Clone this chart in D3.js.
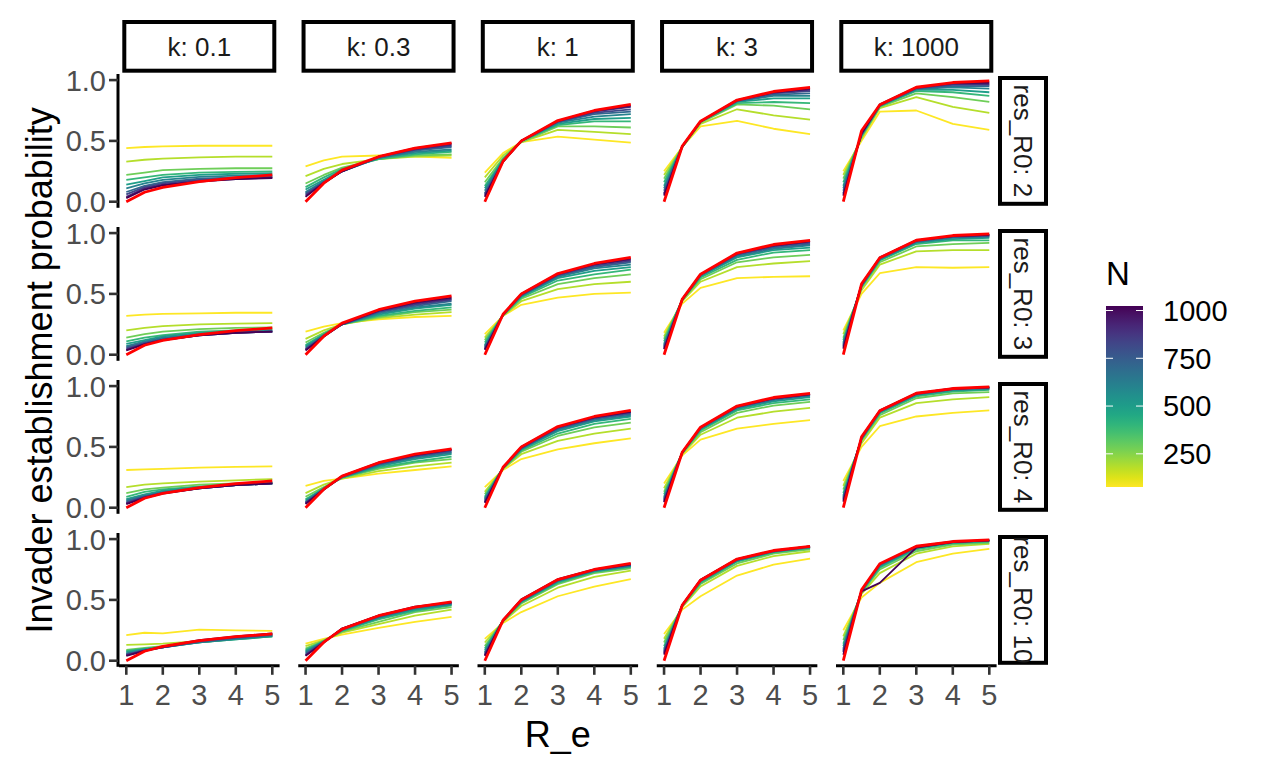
<!DOCTYPE html>
<html>
<head>
<meta charset="utf-8">
<script src="https://cdn.jsdelivr.net/npm/d3@7"></script>
<style>
  body { margin: 0; background: #fff; }
  text { font-family: "Liberation Sans", Arial, sans-serif; }
</style>
</head>
<body>
<div id="chart-area"></div>
<script>
// R_e values where the simulations were run
var xValues = [1, 1.5, 2, 3, 4, 5];
var xTicks = [1, 2, 3, 4, 5];
var yTicks = [0, 0.5, 1];
var kLabels = ["0.1", "0.3", "1", "3", "1000"];
var r0Labels = ["2", "3", "4", "10"];
var nValues = [100, 200, 300, 400, 500, 600, 700, 800, 900, 1000];
var legendTicks = [250, 500, 750, 1000];

// red line: branching process probability, one per k
var theory = [
  [0, 0.078, 0.118, 0.165, 0.198, 0.22],
  [0, 0.152, 0.26, 0.37, 0.44, 0.483],
  [0, 0.333, 0.5, 0.667, 0.75, 0.8],
  [0, 0.458, 0.662, 0.836, 0.906, 0.94],
  [0, 0.583, 0.797, 0.941, 0.98, 0.993]
];

// simulations, one row per N (100 .. 1000)
var r2_k01 = [
  [0.44,0.45,0.455,0.46,0.46,0.46],[0.33,0.345,0.355,0.365,0.37,0.37],[0.22,0.24,0.26,0.27,0.275,0.275],
  [0.18,0.2,0.22,0.24,0.245,0.25],[0.14,0.17,0.2,0.22,0.23,0.235],[0.11,0.15,0.18,0.205,0.215,0.22],
  [0.08,0.13,0.16,0.19,0.2,0.21],[0.06,0.12,0.15,0.18,0.19,0.2],[0.04,0.11,0.14,0.17,0.185,0.2],
  [0.03,0.1,0.135,0.165,0.185,0.195]];
var r2_k03 = [
  [0.29,0.34,0.37,0.38,0.37,0.36],[0.21,0.27,0.31,0.35,0.37,0.38],[0.15,0.22,0.28,0.35,0.38,0.39],
  [0.12,0.2,0.27,0.35,0.39,0.41],[0.1,0.18,0.26,0.36,0.4,0.42],[0.08,0.17,0.25,0.36,0.41,0.43],
  [0.07,0.16,0.25,0.36,0.42,0.45],[0.06,0.16,0.25,0.37,0.43,0.46],[0.05,0.155,0.25,0.37,0.43,0.47],
  [0.04,0.155,0.25,0.37,0.44,0.48]];
var r2_k1 = [
  [0.24,0.4,0.49,0.535,0.51,0.485],[0.2,0.38,0.49,0.59,0.575,0.555],[0.16,0.36,0.49,0.62,0.62,0.61],
  [0.13,0.35,0.5,0.63,0.66,0.66],[0.11,0.34,0.5,0.64,0.68,0.69],[0.09,0.34,0.5,0.65,0.7,0.72],
  [0.07,0.33,0.5,0.655,0.72,0.74],[0.06,0.33,0.5,0.66,0.73,0.76],[0.05,0.33,0.5,0.66,0.74,0.78],
  [0.04,0.33,0.5,0.665,0.75,0.79]];
var r2_k3 = [
  [0.25,0.45,0.62,0.665,0.6,0.555],[0.22,0.45,0.64,0.76,0.71,0.675],[0.19,0.45,0.65,0.8,0.79,0.76],
  [0.16,0.45,0.655,0.81,0.82,0.81],[0.13,0.45,0.66,0.82,0.85,0.85],[0.11,0.455,0.66,0.825,0.87,0.87],
  [0.09,0.455,0.66,0.83,0.88,0.89],[0.07,0.455,0.66,0.83,0.89,0.91],[0.06,0.455,0.66,0.835,0.9,0.92],
  [0.05,0.455,0.66,0.835,0.9,0.93]];
var r2_k1000 = [
  [0.25,0.5,0.74,0.75,0.64,0.59],[0.22,0.52,0.77,0.86,0.78,0.73],[0.19,0.53,0.78,0.89,0.86,0.82],
  [0.16,0.54,0.785,0.91,0.9,0.87],[0.13,0.55,0.79,0.92,0.92,0.9],[0.11,0.55,0.79,0.925,0.94,0.93],
  [0.09,0.55,0.79,0.93,0.95,0.95],[0.07,0.56,0.795,0.935,0.96,0.96],[0.06,0.56,0.795,0.935,0.97,0.97],
  [0.05,0.56,0.8,0.94,0.975,0.98]];

var r3_k01 = [
  [0.32,0.33,0.335,0.34,0.345,0.345],[0.2,0.22,0.235,0.25,0.255,0.26],[0.14,0.17,0.19,0.21,0.22,0.225],
  [0.11,0.14,0.16,0.19,0.2,0.21],[0.09,0.12,0.15,0.18,0.19,0.2],[0.07,0.11,0.14,0.17,0.185,0.195],
  [0.06,0.1,0.13,0.165,0.18,0.19],[0.05,0.095,0.125,0.16,0.18,0.19],[0.04,0.09,0.12,0.16,0.18,0.19],
  [0.035,0.085,0.12,0.16,0.18,0.19]];
var r3_k03 = [
  [0.19,0.23,0.26,0.29,0.31,0.32],[0.13,0.2,0.25,0.3,0.33,0.35],[0.1,0.18,0.25,0.31,0.35,0.37],
  [0.08,0.17,0.25,0.32,0.36,0.39],[0.07,0.165,0.25,0.33,0.38,0.41],[0.06,0.16,0.25,0.34,0.39,0.42],
  [0.05,0.155,0.25,0.35,0.4,0.44],[0.045,0.155,0.25,0.355,0.41,0.45],[0.04,0.15,0.25,0.36,0.42,0.46],
  [0.035,0.15,0.255,0.365,0.43,0.47]];
var r3_k1 = [
  [0.17,0.32,0.41,0.47,0.5,0.51],[0.14,0.32,0.44,0.54,0.58,0.6],[0.12,0.32,0.46,0.58,0.63,0.66],
  [0.1,0.325,0.47,0.61,0.66,0.7],[0.08,0.33,0.48,0.63,0.69,0.72],[0.07,0.33,0.485,0.64,0.71,0.74],
  [0.06,0.33,0.49,0.65,0.72,0.76],[0.05,0.33,0.49,0.655,0.73,0.77],[0.045,0.33,0.495,0.66,0.74,0.78],
  [0.04,0.33,0.5,0.665,0.745,0.79]];
var r3_k3 = [
  [0.18,0.42,0.55,0.63,0.64,0.645],[0.15,0.44,0.6,0.72,0.75,0.77],[0.13,0.45,0.62,0.76,0.8,0.82],
  [0.11,0.45,0.635,0.78,0.84,0.86],[0.09,0.455,0.645,0.8,0.86,0.88],[0.08,0.455,0.65,0.81,0.87,0.9],
  [0.07,0.455,0.655,0.82,0.88,0.91],[0.06,0.455,0.66,0.825,0.89,0.92],[0.05,0.455,0.66,0.83,0.895,0.93],
  [0.045,0.455,0.66,0.835,0.9,0.935]];
var r3_k1000 = [
  [0.2,0.5,0.67,0.72,0.715,0.72],[0.17,0.53,0.74,0.85,0.86,0.86],[0.14,0.55,0.76,0.89,0.91,0.92],
  [0.12,0.56,0.775,0.91,0.94,0.94],[0.1,0.56,0.78,0.92,0.95,0.96],[0.09,0.57,0.79,0.925,0.96,0.97],
  [0.08,0.57,0.79,0.93,0.97,0.975],[0.07,0.575,0.795,0.935,0.97,0.98],[0.06,0.575,0.795,0.94,0.975,0.985],
  [0.05,0.58,0.8,0.94,0.975,0.985]];

var r4_k01 = [
  [0.31,0.315,0.32,0.33,0.335,0.34],[0.17,0.19,0.2,0.215,0.225,0.235],[0.12,0.15,0.165,0.19,0.2,0.21],
  [0.09,0.13,0.15,0.175,0.19,0.2],[0.07,0.11,0.14,0.17,0.185,0.2],[0.06,0.1,0.13,0.165,0.185,0.2],
  [0.05,0.095,0.125,0.16,0.185,0.2],[0.04,0.09,0.12,0.16,0.185,0.2],[0.035,0.085,0.12,0.16,0.185,0.2],
  [0.03,0.08,0.115,0.16,0.185,0.2]];
var r4_k03 = [
  [0.18,0.22,0.24,0.28,0.31,0.34],[0.12,0.19,0.24,0.3,0.34,0.37],[0.09,0.17,0.245,0.32,0.37,0.4],
  [0.07,0.16,0.25,0.33,0.38,0.42],[0.06,0.16,0.25,0.34,0.4,0.44],[0.05,0.155,0.25,0.35,0.41,0.45],
  [0.045,0.155,0.255,0.355,0.42,0.46],[0.04,0.15,0.255,0.36,0.425,0.47],[0.035,0.15,0.26,0.365,0.43,0.475],
  [0.03,0.15,0.26,0.37,0.435,0.48]];
var r4_k1 = [
  [0.17,0.31,0.4,0.48,0.53,0.57],[0.13,0.32,0.44,0.55,0.61,0.65],[0.11,0.32,0.46,0.59,0.66,0.7],
  [0.09,0.325,0.47,0.61,0.69,0.73],[0.08,0.33,0.48,0.63,0.71,0.75],[0.07,0.33,0.485,0.64,0.72,0.76],
  [0.06,0.33,0.49,0.65,0.73,0.77],[0.05,0.33,0.49,0.655,0.735,0.78],[0.045,0.33,0.495,0.66,0.74,0.785],
  [0.04,0.33,0.5,0.665,0.745,0.79]];
var r4_k3 = [
  [0.2,0.43,0.56,0.65,0.69,0.72],[0.16,0.44,0.6,0.74,0.79,0.82],[0.13,0.45,0.62,0.78,0.84,0.87],
  [0.11,0.45,0.635,0.8,0.86,0.89],[0.09,0.455,0.645,0.81,0.875,0.91],[0.08,0.455,0.65,0.82,0.885,0.92],
  [0.07,0.455,0.655,0.825,0.89,0.925],[0.06,0.455,0.66,0.83,0.895,0.93],[0.05,0.455,0.66,0.83,0.9,0.935],
  [0.045,0.455,0.66,0.835,0.9,0.935]];
var r4_k1000 = [
  [0.22,0.5,0.67,0.75,0.78,0.8],[0.18,0.53,0.74,0.86,0.89,0.91],[0.15,0.55,0.76,0.9,0.94,0.95],
  [0.12,0.56,0.775,0.915,0.955,0.97],[0.1,0.565,0.785,0.925,0.965,0.975],[0.09,0.57,0.79,0.93,0.97,0.98],
  [0.08,0.57,0.79,0.935,0.975,0.985],[0.07,0.575,0.795,0.935,0.975,0.99],[0.06,0.575,0.795,0.94,0.978,0.99],
  [0.05,0.58,0.8,0.94,0.98,0.99]];

var r10_k01 = [
  [0.21,0.23,0.225,0.255,0.25,0.245],[0.13,0.135,0.14,0.16,0.19,0.215],[0.09,0.105,0.12,0.15,0.18,0.2],
  [0.08,0.1,0.115,0.15,0.175,0.2],[0.07,0.095,0.11,0.15,0.175,0.2],[0.06,0.09,0.11,0.15,0.18,0.205],
  [0.055,0.085,0.11,0.155,0.185,0.21],[0.05,0.085,0.11,0.16,0.19,0.215],[0.045,0.08,0.11,0.165,0.195,0.22],
  [0.04,0.08,0.115,0.17,0.2,0.225]];
var r10_k03 = [
  [0.14,0.18,0.215,0.27,0.32,0.36],[0.12,0.17,0.23,0.3,0.37,0.42],[0.1,0.165,0.24,0.32,0.4,0.44],
  [0.09,0.16,0.245,0.34,0.41,0.455],[0.08,0.16,0.25,0.35,0.42,0.46],[0.07,0.155,0.255,0.355,0.43,0.465],
  [0.06,0.155,0.26,0.36,0.435,0.47],[0.05,0.155,0.26,0.365,0.44,0.475],[0.045,0.15,0.265,0.37,0.44,0.48],
  [0.04,0.15,0.265,0.37,0.445,0.48]];
var r10_k1 = [
  [0.18,0.31,0.4,0.53,0.61,0.67],[0.15,0.32,0.45,0.6,0.69,0.74],[0.12,0.325,0.47,0.63,0.72,0.76],
  [0.1,0.33,0.48,0.64,0.73,0.77],[0.085,0.33,0.485,0.65,0.735,0.775],[0.07,0.33,0.49,0.655,0.74,0.78],
  [0.06,0.33,0.49,0.66,0.745,0.785],[0.05,0.33,0.495,0.66,0.745,0.79],[0.045,0.33,0.5,0.665,0.75,0.79],
  [0.04,0.335,0.505,0.67,0.75,0.795]];
var r10_k3 = [
  [0.22,0.42,0.53,0.7,0.79,0.84],[0.18,0.44,0.61,0.78,0.86,0.9],[0.15,0.45,0.63,0.8,0.88,0.915],
  [0.12,0.45,0.64,0.815,0.89,0.925],[0.1,0.455,0.65,0.82,0.895,0.93],[0.09,0.455,0.655,0.825,0.9,0.935],
  [0.08,0.455,0.66,0.83,0.9,0.935],[0.07,0.455,0.66,0.83,0.9,0.94],[0.06,0.455,0.665,0.835,0.905,0.94],
  [0.05,0.46,0.665,0.835,0.905,0.94]];
var r10_k1000 = [
  [0.25,0.52,0.64,0.81,0.88,0.92],[0.2,0.55,0.72,0.88,0.94,0.96],[0.17,0.56,0.75,0.9,0.955,0.97],
  [0.14,0.565,0.765,0.915,0.965,0.98],[0.12,0.57,0.775,0.925,0.97,0.985],[0.1,0.575,0.785,0.93,0.975,0.985],
  [0.09,0.575,0.79,0.935,0.975,0.99],[0.08,0.575,0.79,0.935,0.978,0.99],[0.07,0.58,0.795,0.94,0.98,0.99],
  [0.05,0.57,0.64,0.93,0.975,0.99]];

var panels = [
  [r2_k01, r2_k03, r2_k1, r2_k3, r2_k1000],
  [r3_k01, r3_k03, r3_k1, r3_k3, r3_k1000],
  [r4_k01, r4_k03, r4_k1, r4_k3, r4_k1000],
  [r10_k01, r10_k03, r10_k1, r10_k3, r10_k1000]
];

var width = 1265, height = 771;
var margin = { left: 119, top: 74 };
var panelW = 160.6, panelH = 133.8;
var colStep = 179.25, rowStep = 153;

var svg = d3.select("#chart-area").append("svg")
  .attr("width", width)
  .attr("height", height);

var x = d3.scaleLinear().domain([0.8, 5.2]).range([0, panelW]);
var y = d3.scaleLinear().domain([-0.05, 1.05]).range([panelH, 0]);
var color = d3.scaleSequential(d3.interpolateViridis).domain([1000, 100]);

var line = d3.line()
  .x(function(d, i){ return x(xValues[i]); })
  .y(function(d){ return y(d); });

panels.forEach(function(row, ri){
  row.forEach(function(series, ci){
    var g = svg.append("g")
      .attr("transform", "translate(" + (margin.left + ci * colStep) + ", " + (margin.top + ri * rowStep) + ")");

    g.selectAll("path.sim")
      .data(series)
      .enter()
      .append("path")
        .attr("class", "sim")
        .attr("d", line)
        .attr("fill", "none")
        .attr("stroke", function(d, i){ return color(nValues[i]); })
        .attr("stroke-width", 1.8)
        .attr("stroke-linejoin", "round");

    g.append("path")
      .attr("d", line(theory[ci]))
      .attr("fill", "none")
      .attr("stroke", "red")
      .attr("stroke-width", 2.8)
      .attr("stroke-linejoin", "round");

    // y axis on first column
    if (ci === 0) {
      var ya = g.append("g").attr("transform", "translate(-1, 0)");
      ya.append("line")
        .attr("y1", 0).attr("y2", panelH)
        .attr("stroke", "black").attr("stroke-width", 3);
      ya.selectAll("line.tick").data(yTicks).enter().append("line")
        .attr("class", "tick")
        .attr("x1", -9).attr("x2", 0)
        .attr("y1", function(d){ return y(d); })
        .attr("y2", function(d){ return y(d); })
        .attr("stroke", "#333").attr("stroke-width", 2.6);
      ya.selectAll("text").data(yTicks).enter().append("text")
        .attr("x", -12)
        .attr("y", function(d){ return y(d); })
        .attr("dy", "0.36em")
        .attr("text-anchor", "end")
        .attr("font-size", "29px")
        .attr("fill", "#4d4d4d")
        .text(function(d){ return d3.format(".1f")(d); });
    }

    // x axis on bottom row
    if (ri === panels.length - 1) {
      var xa = g.append("g").attr("transform", "translate(0, " + (panelH - 1) + ")");
      xa.append("line")
        .attr("x1", 0).attr("x2", panelW)
        .attr("stroke", "black").attr("stroke-width", 3);
      xa.selectAll("line.tick").data(xTicks).enter().append("line")
        .attr("class", "tick")
        .attr("x1", function(d){ return x(d); })
        .attr("x2", function(d){ return x(d); })
        .attr("y1", 0).attr("y2", 9)
        .attr("stroke", "#333").attr("stroke-width", 2.6);
      xa.selectAll("text").data(xTicks).enter().append("text")
        .attr("x", function(d){ return x(d); })
        .attr("y", 39)
        .attr("text-anchor", "middle")
        .attr("font-size", "29px")
        .attr("fill", "#4d4d4d")
        .text(function(d){ return d; });
    }
  });
});

// top strips
kLabels.forEach(function(k, ci){
  var sx = margin.left + ci * colStep;
  svg.append("rect")
    .attr("x", sx + 5.3).attr("y", 22)
    .attr("width", panelW - 10.6).attr("height", 48.7)
    .attr("fill", "white").attr("stroke", "black").attr("stroke-width", 4);
  svg.append("text")
    .attr("x", sx + panelW / 2).attr("y", 46.4)
    .attr("dy", "0.36em")
    .attr("text-anchor", "middle")
    .attr("font-size", "26px")
    .attr("fill", "#1a1a1a")
    .text("k: " + k);
});

// right strips
r0Labels.forEach(function(r, ri){
  var sy = margin.top + ri * rowStep;
  svg.append("rect")
    .attr("x", 1000).attr("y", sy + 4)
    .attr("width", 46).attr("height", panelH - 8)
    .attr("fill", "white").attr("stroke", "black").attr("stroke-width", 4);
  svg.append("text")
    .attr("transform", "translate(1023, " + (sy + panelH / 2) + ") rotate(90)")
    .attr("dy", "0.36em")
    .attr("text-anchor", "middle")
    .attr("font-size", "26px")
    .attr("fill", "#1a1a1a")
    .text("res_R0: " + r);
});

// axis titles
svg.append("text")
  .attr("x", margin.left + (4 * colStep + panelW) / 2)
  .attr("y", 747)
  .attr("text-anchor", "middle")
  .attr("font-size", "36px")
  .text("R_e");

svg.append("text")
  .attr("transform", "translate(52, " + (margin.top + (3 * rowStep + panelH) / 2) + ") rotate(-90)")
  .attr("text-anchor", "middle")
  .attr("font-size", "36px")
  .text("Invader establishment probability");

// colour bar legend
var barX = 1106, barY = 306, barW = 37, barH = 181;
var defs = svg.append("defs");
var grad = defs.append("linearGradient")
  .attr("id", "nGrad")
  .attr("x1", 0).attr("x2", 0).attr("y1", 1).attr("y2", 0);
d3.range(0, 1.0001, 0.05).forEach(function(t){
  grad.append("stop")
    .attr("offset", t)
    .attr("stop-color", color(100 + t * 900));
});

svg.append("text")
  .attr("x", barX).attr("y", 285)
  .attr("font-size", "33px")
  .text("N");

svg.append("rect")
  .attr("x", barX).attr("y", barY)
  .attr("width", barW).attr("height", barH)
  .attr("fill", "url(#nGrad)");

var ly = d3.scaleLinear().domain([100, 1000])
  .range([barY + barH * 0.975, barY + barH * 0.025]);

legendTicks.forEach(function(v){
  svg.append("line")
    .attr("x1", barX).attr("x2", barX + 7)
    .attr("y1", ly(v)).attr("y2", ly(v))
    .attr("stroke", "white").attr("stroke-width", 1);
  svg.append("line")
    .attr("x1", barX + barW - 7).attr("x2", barX + barW)
    .attr("y1", ly(v)).attr("y2", ly(v))
    .attr("stroke", "white").attr("stroke-width", 1);
  svg.append("text")
    .attr("x", 1163).attr("y", ly(v))
    .attr("dy", "0.36em")
    .attr("font-size", "29px")
    .text(v);
});
</script>
</body>
</html>
